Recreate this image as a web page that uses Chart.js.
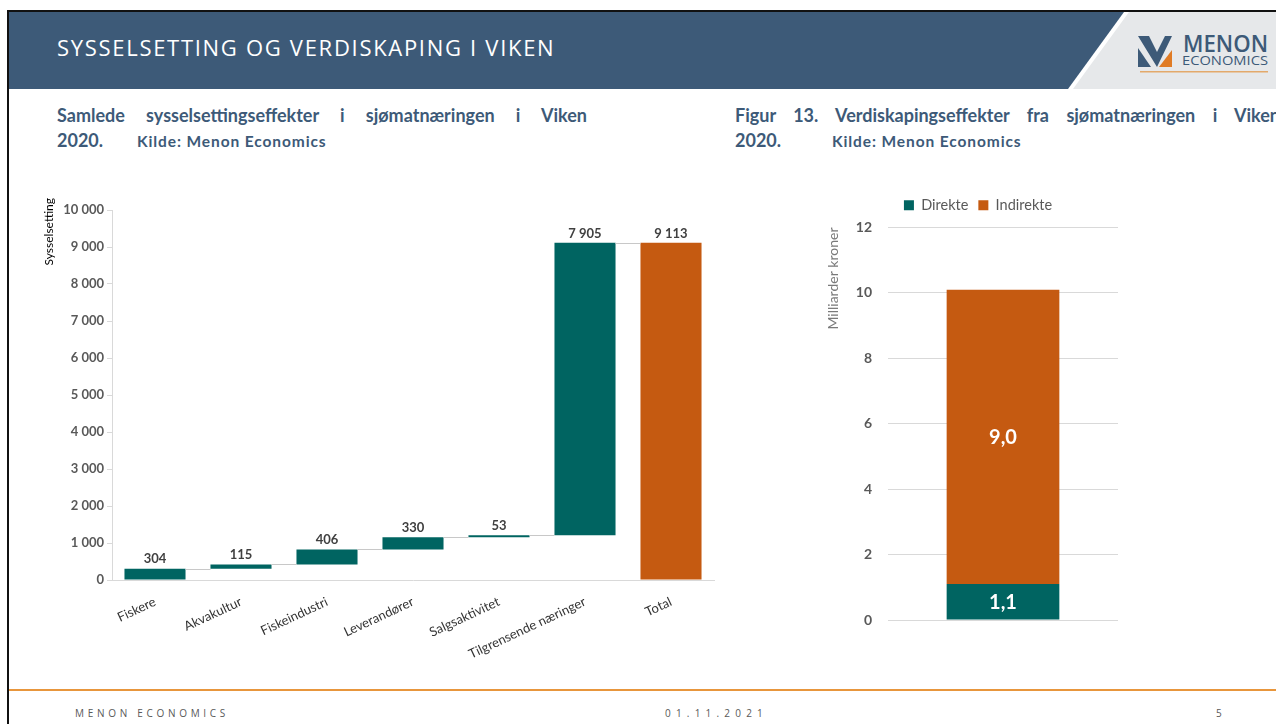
<!DOCTYPE html>
<html>
<head>
<meta charset="utf-8">
<script src="https://cdn.jsdelivr.net/npm/chart.js@4.4.0/dist/chart.umd.min.js"></script>
<style>
  html, body { margin: 0; padding: 0; width: 1276px; height: 724px; overflow: hidden; background: #ffffff; font-family: Lato, "Open Sans", sans-serif; }
  .abs { position: absolute; }
  #frameTop { left: 7px; top: 10px; width: 1269px; height: 2px; background: #111; }
  #frameLeft { left: 7px; top: 10px; width: 2px; height: 714px; background: #111; }
  #band { left: 9px; top: 12px; width: 1267px; height: 77px; background: #e6e8ea; }
  #bandGap { left: 9px; top: 12px; width: 1267px; height: 77px; background: #ffffff;
    clip-path: polygon(0 0, 1120px 0, 1064px 100%, 0 100%); }
  #bandBlue { left: 9px; top: 12px; width: 1267px; height: 77px; background: #3d5a78;
    clip-path: polygon(0 0, 1115px 0, 1059px 100%, 0 100%); }
  #pageTitle { left: 57px; top: 32px; color: #ffffff; font-family: "Open Sans", sans-serif; font-size: 22px; letter-spacing: 1.7px; white-space: nowrap; }
  #logo { left: 1134px; top: 30px; }
  .heading { color: #3d5a78; font-weight: bold; font-size: 18px; white-space: nowrap; }
  .line1 { text-align: justify; text-align-last: justify; white-space: normal; overflow: hidden; height: 26px; }
  .src { font-size: 15.5px; letter-spacing: 0.9px; }
  #footLine { left: 9px; top: 689px; width: 1267px; height: 2px; background: #e8963c; }
  .foot { top: 706px; color: #595959; font-size: 10px; letter-spacing: 3.7px; font-family: "Open Sans", sans-serif; }
  canvas { position: absolute; }
</style>
</head>
<body>
<div class="abs" id="frameTop"></div>
<div class="abs" id="frameLeft"></div>
<div class="abs" id="band"></div>
<div class="abs" id="bandGap"></div>
<div class="abs" id="bandBlue"></div>
<div class="abs" id="pageTitle">SYSSELSETTING OG VERDISKAPING I VIKEN</div>
<svg class="abs" id="logo" width="140" height="46" viewBox="0 0 140 46">
  <polygon points="4,6 15,6 23,22 31,6 38,6 23,37" fill="#3d5a78"/>
  <polygon points="4,18 4,37 17,37" fill="#3d5a78"/>
  <polygon points="38,20 38,37 25,37" fill="#e07b24"/>
  <text x="49" y="22" font-family="Open Sans, sans-serif" font-weight="600" font-size="24" textLength="85" lengthAdjust="spacingAndGlyphs" fill="#3d5a78">MENON</text>
  <text x="48" y="35" font-family="Open Sans, sans-serif" font-size="12" textLength="86" lengthAdjust="spacingAndGlyphs" fill="#3d5a78">ECONOMICS</text>
  <rect x="6" y="41" width="128" height="1.5" fill="#e3a96b"/>
</svg>

<div class="abs heading line1" style="left:57px; top:104px; width:530px;">Samlede sysselsettingseffekter i sjømatnæringen i Viken</div>
<div class="abs heading" style="left:57px; top:129px;">2020.<span class="src" style="position:absolute; left:80px; top:3px;">Kilde: Menon Economics</span></div>

<div class="abs heading line1" style="left:735px; top:104px; width:545px;">Figur 13. Verdiskapingseffekter fra sjømatnæringen i Viken</div>
<div class="abs heading" style="left:735px; top:129px;">2020.<span class="src" style="position:absolute; left:97px; top:3px;">Kilde: Menon Economics</span></div>

<canvas id="left" style="left:30px; top:180px;" width="700" height="490"></canvas>
<canvas id="right" style="left:806px; top:178px;" width="344" height="470"></canvas>

<div class="abs" id="footLine"></div>
<div class="abs foot" style="left:75px;">MENON ECONOMICS</div>
<div class="abs foot" style="left:665px; letter-spacing:5.2px;">01.11.2021</div>
<div class="abs foot" style="left:1216px;">5</div>

<script>
// Employment effects, waterfall
const categories = ['Fiskere', 'Akvakultur', 'Fiskeindustri', 'Leverandører', 'Salgsaktivitet', 'Tilgrensende næringer', 'Total'];
const increments = [304, 115, 406, 330, 53, 7905];
const totalValue = 9113;
const employmentTicks = { min: 0, max: 10000, step: 1000 };
const employmentAxisTitle = 'Sysselsetting';

// Value creation, stacked
const valueCategories = ['2020'];
const direkte = [1.1];
const indirekte = [9.0];
const valueTicks = { min: 0, max: 12, step: 2 };
const valueAxisTitle = 'Milliarder kroner';

const TEAL = '#006461';
const ORANGE = '#c55a11';
const FONT = 'Lato, "Open Sans", sans-serif';

const spaced = n => String(n).replace(/\B(?=(\d{3})+(?!\d))/g, ' ');
const comma = n => n.toFixed(1).replace('.', ',');

// floating bars: each step starts where the previous one ended
let running = 0;
const floating = increments.map(v => { const r = [running, running + v]; running += v; return r; });
floating.push([0, totalValue]);
const stepLabels = increments.concat([totalValue]);
const barColors = categories.map((c, i) => i === categories.length - 1 ? ORANGE : TEAL);

const waterfallExtras = {
  id: 'waterfallExtras',
  afterDatasetsDraw(chart) {
    const ctx = chart.ctx;
    const meta = chart.getDatasetMeta(0);
    const y = chart.scales.y;
    ctx.save();
    // connectors between consecutive bars
    ctx.strokeStyle = '#c8c8c8';
    ctx.lineWidth = 1;
    for (let i = 0; i < meta.data.length - 1; i++) {
      const a = meta.data[i], b = meta.data[i + 1];
      const py = Math.round(y.getPixelForValue(floating[i][1])) + 0.5;
      ctx.beginPath();
      ctx.moveTo(a.x + a.width / 2, py);
      ctx.lineTo(b.x - b.width / 2, py);
      ctx.stroke();
    }
    // value labels above bars
    ctx.fillStyle = '#404040';
    ctx.font = 'bold 13px ' + FONT;
    ctx.textAlign = 'center';
    ctx.textBaseline = 'bottom';
    meta.data.forEach((el, i) => {
      const top = Math.min(el.y, el.base);
      ctx.fillText(spaced(stepLabels[i]), el.x, top - 3);
    });
    // vertical axis caption, reaching a little above the plot
    ctx.fillStyle = '#000000';
    ctx.font = '12px ' + FONT;
    ctx.translate(19, y.top - 12);
    ctx.rotate(-Math.PI / 2);
    ctx.textAlign = 'right';
    ctx.textBaseline = 'middle';
    ctx.fillText(employmentAxisTitle, 0, 0);
    ctx.restore();
  }
};

new Chart(document.getElementById('left'), {
  type: 'bar',
  data: {
    labels: categories,
    datasets: [{ data: floating, backgroundColor: barColors, borderWidth: 0, barPercentage: 0.71, categoryPercentage: 1 }]
  },
  options: {
    responsive: false,
    animation: false,
    layout: { padding: { top: 30, right: 16, left: 0, bottom: 0 } },
    plugins: { legend: { display: false }, tooltip: { enabled: false } },
    scales: {
      x: {
        grid: { display: false },
        border: { display: true, color: '#d9d9d9' },
        ticks: { minRotation: 25, maxRotation: 25, padding: 6, color: '#333333', font: { family: FONT, size: 13 } },
        afterFit(s) { s.height = 90; }
      },
      y: {
        min: employmentTicks.min, max: employmentTicks.max,
        grid: { display: true, drawOnChartArea: false, drawTicks: true, tickLength: 5, color: '#d9d9d9' },
        border: { display: true, color: '#d9d9d9' },
        ticks: { stepSize: employmentTicks.step, padding: 3, color: '#595959', font: { family: FONT, size: 13, weight: 'bold' }, callback: v => spaced(v) },
        afterFit(s) { s.width = 82; }
      }
    }
  },
  plugins: [waterfallExtras]
});

const stackLabels = {
  id: 'stackLabels',
  afterDatasetsDraw(chart) {
    const ctx = chart.ctx;
    ctx.save();
    ctx.fillStyle = '#ffffff';
    ctx.font = 'bold 20px ' + FONT;
    ctx.textAlign = 'center';
    ctx.textBaseline = 'middle';
    chart.data.datasets.forEach((ds, di) => {
      chart.getDatasetMeta(di).data.forEach((el, i) => {
        ctx.fillText(comma(ds.data[i]), el.x, (el.y + el.base) / 2 + 1);
      });
    });
    ctx.restore();
  }
};

// leaves extra room between the legend and the plot
const legendGap = {
  id: 'legendGap',
  beforeInit(chart) {
    const fit = chart.legend.fit;
    chart.legend.fit = function () {
      fit.call(this);
      this.height += 5;
    };
  }
};

new Chart(document.getElementById('right'), {
  type: 'bar',
  data: {
    labels: valueCategories,
    datasets: [
      { label: 'Direkte', data: direkte, backgroundColor: TEAL, barPercentage: 0.49, categoryPercentage: 1 },
      { label: 'Indirekte', data: indirekte, backgroundColor: ORANGE, barPercentage: 0.49, categoryPercentage: 1 }
    ]
  },
  options: {
    responsive: false,
    animation: false,
    layout: { padding: { top: 10, right: 0, left: 0, bottom: 28 } },
    plugins: {
      legend: {
        display: true, position: 'top',
        labels: { boxWidth: 10, boxHeight: 10, padding: 10, color: '#595959', font: { family: FONT, size: 14.5 } }
      },
      tooltip: { enabled: false }
    },
    scales: {
      x: { stacked: true, display: false },
      y: {
        stacked: true,
        min: valueTicks.min, max: valueTicks.max,
        grid: { color: '#d9d9d9', drawTicks: false },
        border: { display: false },
        ticks: { stepSize: valueTicks.step, padding: 16, color: '#595959', font: { family: FONT, size: 14, weight: 'bold' } },
        title: { display: true, text: valueAxisTitle, align: 'end', color: '#7a7a7a', padding: { top: 19, bottom: 0 }, font: { family: FONT, size: 14 } },
        afterFit(s) { s.width = 82; }
      },
      side: {
        position: 'right',
        grid: { display: false },
        border: { display: false },
        ticks: { display: false },
        afterFit(s) { s.width = 32; }
      }
    }
  },
  plugins: [stackLabels, legendGap]
});
</script>
</body>
</html>
